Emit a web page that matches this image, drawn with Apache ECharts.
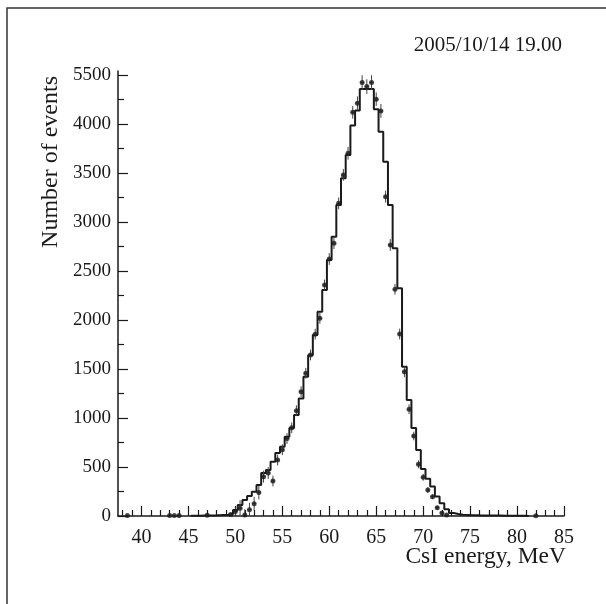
<!DOCTYPE html>
<html>
<head>
<meta charset="utf-8">
<script src="https://cdn.jsdelivr.net/npm/echarts@6/dist/echarts.min.js"></script>
<style>html,body{margin:0;padding:0;background:#fff}#c{width:606px;height:604px}</style>
</head>
<body>
<div id="c"></div>
<script>
// ---- data ----
const xTicksMajor = [40, 45, 50, 55, 60, 65, 70, 75, 80, 85];
const xTicksMinor = [38,39,41,42,43,44,46,47,48,49,51,52,53,54,56,57,58,59,61,62,63,64,66,67,68,69,71,72,73,74,76,77,78,79,81,82,83,84];
const yTicksMajor = [0, 500, 1000, 1500, 2000, 2500, 3000, 3500, 4000, 4500];
const yTickLabels = ["0", "500", "1000", "1500", "2000", "2500", "3000", "3500", "4000", "5500"];
const yTicksMinor = [250, 750, 1250, 1750, 2250, 2750, 3250, 3750, 4250];

// simulated histogram, bin centre (MeV), bin width 0.5 MeV
const histCenters = [45.5,46.0,46.5,47.0,47.5,48.0,48.5,49.0,49.5,50.0,50.5,51.0,51.5,52.0,52.5,53.0,53.5,54.0,54.5,55.0,55.5,56.0,56.5,57.0,57.5,58.0,58.5,59.0,59.5,60.0,60.5,61.0,61.5,62.0,62.5,63.0,63.5,64.0,64.5,65.0,65.5,66.0,66.5,67.0,67.5,68.0,68.5,69.0,69.5,70.0,70.5,71.0,71.5,72.0,72.5,73.0,73.5,74.0,74.5,75.0,75.5,76.0,76.5,77.0,77.5,78.0,78.5,79.0,79.5,80.0,80.5,81.0];
const histCounts  = [2,3,4,5,6,8,10,12,20,60,112,163,204,248,316,439,469,554,643,707,809,898,1030,1200,1420,1640,1847,2085,2306,2612,2850,3173,3446,3684,3983,4136,4357,4357,4357,4150,3921,3615,3173,2732,2323,1523,1184,898,673,480,380,300,200,130,70,30,20,12,10,8,7,6,5,5,4,4,3,3,3,3,2,0];

// measured points: energy, events, error
const pointE   = [38.5,43.0,43.5,44.0,47.0,49.5,50.0,50.5,51.0,51.5,52.0,52.5,53.0,53.5,54.0,54.5,55.0,55.5,56.0,56.5,57.0,57.5,58.0,58.5,59.0,59.5,60.0,60.5,61.0,61.5,62.0,62.5,63.0,63.5,64.0,64.5,65.0,65.5,66.0,66.5,67.0,67.5,68.0,68.5,69.0,69.5,70.0,70.5,71.0,71.5,72.0,72.5,82.0];
const pointN   = [4,4,4,4,8,15,45,80,10,65,126,240,401,439,357,571,676,790,900,1074,1268,1456,1643,1855,2017,2357,2622,2783,3190,3480,3701,4119,4211,4422,4381,4422,4252,4133,3258,2765,2313,1857,1472,1089,816,527,395,265,197,85,30,10,3];
const pointErr = [4,4,4,4,8,15,45,80,60,70,70,70,60,60,55,55,55,55,55,55,55,55,55,55,55,55,60,60,60,60,65,65,70,75,75,75,70,70,60,60,55,55,55,50,45,40,35,30,25,20,12,8,3];

// ---- chart ----
const FONT = '"Liberation Serif", "Times New Roman", serif';
const INK = '#1a1a1a';

const histLine = [];
for (let i = 0; i < histCenters.length; i++) {
  histLine.push([histCenters[i] - 0.25, histCounts[i]]);
  histLine.push([histCenters[i] + 0.25, histCounts[i]]);
}
const pts = pointE.map((e, i) => [e, pointN[i]]);
const errs = pointE.map((e, i) => [e, pointN[i], pointErr[i]]);

const chart = echarts.init(document.getElementById('c'), null, {renderer: 'canvas'});
const xBase = {type: 'value', min: 37.5, max: 85, gridIndex: 0, position: 'bottom',
  splitLine: {show: false}};
const yBase = {type: 'value', min: 0, max: 4540, gridIndex: 0, position: 'left',
  splitLine: {show: false}};

chart.setOption({
  animation: false,
  backgroundColor: '#fff',
  grid: {left: 118, right: 42, top: 71, bottom: 88, containLabel: false},
  xAxis: [
    Object.assign({}, xBase, {
      axisLine: {show: true, lineStyle: {color: INK, width: 1.5}},
      axisTick: {show: true, inside: true, length: 10, customValues: xTicksMajor, lineStyle: {color: INK, width: 1.2}},
      axisLabel: {show: true, customValues: xTicksMajor, margin: 12, color: INK, fontFamily: FONT, fontSize: 20}
    }),
    Object.assign({}, xBase, {
      axisLine: {show: false},
      axisTick: {show: true, inside: true, length: 6, customValues: xTicksMinor, lineStyle: {color: INK, width: 1.2}},
      axisLabel: {show: false}
    })
  ],
  yAxis: [
    Object.assign({}, yBase, {
      axisLine: {show: true, lineStyle: {color: INK, width: 1.5}},
      axisTick: {show: true, inside: true, length: 10, customValues: yTicksMajor, lineStyle: {color: INK, width: 1.2}},
      axisLabel: {show: true, customValues: yTicksMajor, margin: 7, color: INK, fontFamily: FONT, fontSize: 19,
        formatter: v => yTickLabels[yTicksMajor.indexOf(v)] ?? String(v)}
    }),
    Object.assign({}, yBase, {
      axisLine: {show: false},
      axisTick: {show: true, inside: true, length: 6, customValues: yTicksMinor, lineStyle: {color: INK, width: 1.2}},
      axisLabel: {show: false}
    })
  ],
  graphic: [
    {type: 'rect', shape: {x: 7, y: 8, width: 700, height: 700}, silent: true,
      style: {fill: 'none', stroke: '#333', lineWidth: 1.5}},
    {type: 'text', x: 562, y: 45, silent: true,
      style: {text: '2005/10/14 19.00', font: '21px ' + FONT, fill: INK, textAlign: 'right', textVerticalAlign: 'middle'}},
    {type: 'text', x: 566, y: 557, silent: true,
      style: {text: 'CsI energy, MeV', font: '23.5px ' + FONT, fill: INK, textAlign: 'right', textVerticalAlign: 'middle'}},
    {type: 'text', x: 51, y: 76, rotation: Math.PI / 2, silent: true,
      style: {text: 'Number of events', font: '24px ' + FONT, fill: INK, textAlign: 'right', textVerticalAlign: 'middle'}}
  ],
  series: [
    {type: 'line', xAxisIndex: 0, yAxisIndex: 0, data: histLine, showSymbol: false, symbol: 'none',
      lineStyle: {color: INK, width: 2}, z: 3},
    {type: 'custom', xAxisIndex: 0, yAxisIndex: 0, data: errs, z: 4,
      renderItem: function (params, api) {
        const x = api.value(0), y = api.value(1), e = api.value(2);
        const top = api.coord([x, y + e]);
        const bot = api.coord([x, Math.max(0, y - e)]);
        const l = api.coord([x - 0.2, y]);
        const r = api.coord([x + 0.2, y]);
        return {type: 'group', children: [
          {type: 'line', shape: {x1: top[0], y1: top[1], x2: bot[0], y2: bot[1]}, style: {stroke: '#444', lineWidth: 1}},
          {type: 'line', shape: {x1: l[0], y1: l[1], x2: r[0], y2: r[1]}, style: {stroke: '#444', lineWidth: 1}}
        ]};
      }},
    {type: 'scatter', xAxisIndex: 0, yAxisIndex: 0, data: pts, symbol: 'circle', symbolSize: 5,
      itemStyle: {color: INK}, z: 5}
  ]
});
</script>
</body>
</html>
